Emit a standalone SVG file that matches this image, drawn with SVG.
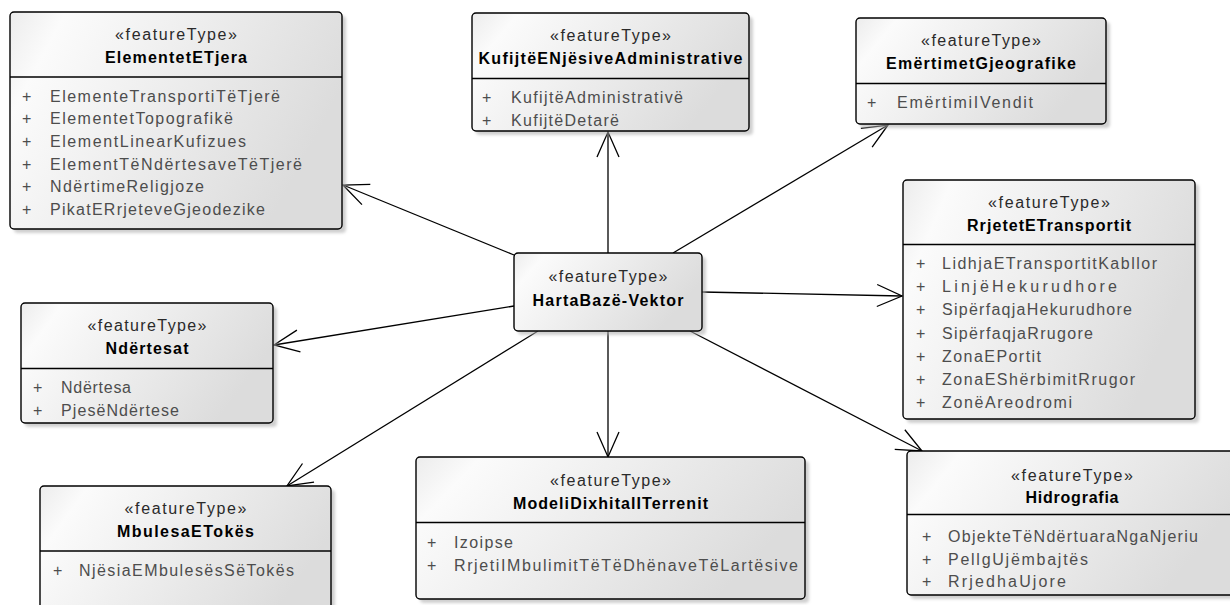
<svg xmlns="http://www.w3.org/2000/svg" width="1230" height="605" viewBox="0 0 1230 605">
<style>
.box{fill:url(#g);stroke:#000;stroke-width:1.4}
.sh{fill:#b0b0b0;opacity:.6;filter:url(#blur)}
.div{stroke:#000;stroke-width:1.3}
text{font-family:"Liberation Sans",Arial,sans-serif;font-size:16px}
.st{fill:#2a2a2a;text-anchor:middle}
.nm{fill:#000;font-weight:bold;text-anchor:middle}
.at{fill:#4d4d4d}
.conn{stroke:#000;stroke-width:1.3;fill:none;marker-end:url(#arr)}
</style>
<defs>
<linearGradient id="g" x1="0" y1="0" x2="1" y2="0.35">
<stop offset="0" stop-color="#ececec"/>
<stop offset="0.15" stop-color="#fbfbfb"/>
<stop offset="1" stop-color="#dcdcdc"/>
</linearGradient>
<filter id="blur" x="-5%" y="-5%" width="110%" height="110%"><feGaussianBlur stdDeviation="1.5"/></filter>
<marker id="arr" viewBox="-28 -13 30 26" refX="0" refY="0" markerWidth="30" markerHeight="26" markerUnits="userSpaceOnUse" orient="auto">
<path d="M-25,-11 L0,0 L-25,11" fill="none" stroke="#000" stroke-width="1.3"/>
</marker>
</defs>

<g id="connectors">
<line class="conn" x1="514" y1="255" x2="343" y2="185"/>
<line class="conn" x1="608" y1="253" x2="608" y2="132"/>
<line class="conn" x1="673" y1="253" x2="888" y2="125"/>
<line class="conn" x1="702" y1="292" x2="902" y2="296"/>
<line class="conn" x1="514" y1="306" x2="274" y2="345"/>
<line class="conn" x1="538" y1="331" x2="287" y2="486"/>
<line class="conn" x1="608" y1="331" x2="608" y2="457"/>
<line class="conn" x1="690" y1="331" x2="922" y2="451"/>
</g>

<g id="ElementetETjera">
<rect class="sh" x="14" y="16" width="332" height="217" rx="4"/>
<rect class="box" x="10" y="12" width="332" height="217" rx="4"/>
<line class="div" x1="10" y1="77" x2="342" y2="77"/>
<text class="st" x="176" y="40" textLength="122" lengthAdjust="spacing">«featureType»</text>
<text class="nm" x="176" y="63" textLength="142" lengthAdjust="spacing">ElementetETjera</text>
<text class="at" x="22" y="101.5">+</text><text class="at" x="50" y="101.5" textLength="230" lengthAdjust="spacing">ElementeTransportiTëTjerë</text>
<text class="at" x="22" y="124.2">+</text><text class="at" x="50" y="124.2" textLength="183" lengthAdjust="spacing">ElementetTopografikë</text>
<text class="at" x="22" y="146.9">+</text><text class="at" x="50" y="146.9" textLength="196" lengthAdjust="spacing">ElementLinearKufizues</text>
<text class="at" x="22" y="169.6">+</text><text class="at" x="50" y="169.6" textLength="252" lengthAdjust="spacing">ElementTëNdërtesaveTëTjerë</text>
<text class="at" x="22" y="192.3">+</text><text class="at" x="50" y="192.3" textLength="154" lengthAdjust="spacing">NdërtimeReligjoze</text>
<text class="at" x="22" y="215">+</text><text class="at" x="50" y="215" textLength="215" lengthAdjust="spacing">PikatERrjeteveGjeodezike</text>
</g>

<g id="KufijteENjesiveAdministrative">
<rect class="sh" x="476" y="17" width="277" height="118" rx="4"/>
<rect class="box" x="472" y="13" width="277" height="118" rx="4"/>
<line class="div" x1="472" y1="78.5" x2="749" y2="78.5"/>
<text class="st" x="610.5" y="41" textLength="121" lengthAdjust="spacing">«featureType»</text>
<text class="nm" x="610.5" y="64" textLength="264" lengthAdjust="spacing">KufijtëENjësiveAdministrative</text>
<text class="at" x="482" y="103">+</text><text class="at" x="511" y="103" textLength="172" lengthAdjust="spacing">KufijtëAdministrativë</text>
<text class="at" x="482" y="126">+</text><text class="at" x="511" y="126" textLength="108" lengthAdjust="spacing">KufijtëDetarë</text>
</g>

<g id="EmertimetGjeografike">
<rect class="sh" x="860" y="22" width="250" height="106" rx="4"/>
<rect class="box" x="856" y="18" width="250" height="106" rx="4"/>
<line class="div" x1="856" y1="83.5" x2="1106" y2="83.5"/>
<text class="st" x="981" y="46" textLength="120" lengthAdjust="spacing">«featureType»</text>
<text class="nm" x="981" y="69" textLength="190" lengthAdjust="spacing">EmërtimetGjeografike</text>
<text class="at" x="867" y="108">+</text><text class="at" x="897" y="108" textLength="136" lengthAdjust="spacing">EmërtimiIVendit</text>
</g>

<g id="RrjetetETransportit">
<rect class="sh" x="907" y="184" width="292" height="239" rx="4"/>
<rect class="box" x="903" y="180" width="292" height="239" rx="4"/>
<line class="div" x1="903" y1="244.5" x2="1195" y2="244.5"/>
<text class="st" x="1049" y="208" textLength="122" lengthAdjust="spacing">«featureType»</text>
<text class="nm" x="1049" y="231" textLength="164" lengthAdjust="spacing">RrjetetETransportit</text>
<text class="at" x="916" y="269">+</text><text class="at" x="942" y="269" textLength="215" lengthAdjust="spacing">LidhjaETransportitKabllor</text>
<text class="at" x="916" y="292.2">+</text><text class="at" x="942" y="292.2" textLength="175" lengthAdjust="spacing">LinjëHekurudhore</text>
<text class="at" x="916" y="315.4">+</text><text class="at" x="942" y="315.4" textLength="190" lengthAdjust="spacing">SipërfaqjaHekurudhore</text>
<text class="at" x="916" y="338.6">+</text><text class="at" x="942" y="338.6" textLength="151" lengthAdjust="spacing">SipërfaqjaRrugore</text>
<text class="at" x="916" y="361.8">+</text><text class="at" x="942" y="361.8" textLength="99" lengthAdjust="spacing">ZonaEPortit</text>
<text class="at" x="916" y="385">+</text><text class="at" x="942" y="385" textLength="193" lengthAdjust="spacing">ZonaEShërbimitRrugor</text>
<text class="at" x="916" y="408.2">+</text><text class="at" x="942" y="408.2" textLength="130" lengthAdjust="spacing">ZonëAreodromi</text>
</g>

<g id="Ndertesat">
<rect class="sh" x="25" y="307" width="252" height="120" rx="4"/>
<rect class="box" x="21" y="303" width="252" height="120" rx="4"/>
<line class="div" x1="21" y1="368.5" x2="273" y2="368.5"/>
<text class="st" x="147" y="331" textLength="119" lengthAdjust="spacing">«featureType»</text>
<text class="nm" x="147" y="354" textLength="83" lengthAdjust="spacing">Ndërtesat</text>
<text class="at" x="33" y="393">+</text><text class="at" x="61" y="393" textLength="70" lengthAdjust="spacing">Ndërtesa</text>
<text class="at" x="33" y="416">+</text><text class="at" x="61" y="416" textLength="118" lengthAdjust="spacing">PjesëNdërtese</text>
</g>

<g id="HartaBazeVektor">
<rect class="sh" x="518" y="257" width="188" height="78" rx="4"/>
<rect class="box" x="514" y="253" width="188" height="78" rx="4"/>
<text class="st" x="608" y="282" textLength="119" lengthAdjust="spacing">«featureType»</text>
<text class="nm" x="608" y="306" textLength="151" lengthAdjust="spacing">HartaBazë-Vektor</text>
</g>

<g id="MbulesaETokes">
<rect class="sh" x="44" y="490" width="291" height="140" rx="4"/>
<rect class="box" x="40" y="486" width="291" height="140" rx="4"/>
<line class="div" x1="40" y1="551" x2="331" y2="551"/>
<text class="st" x="185.5" y="514" textLength="122" lengthAdjust="spacing">«featureType»</text>
<text class="nm" x="185.5" y="537" textLength="137" lengthAdjust="spacing">MbulesaETokës</text>
<text class="at" x="53" y="576">+</text><text class="at" x="79" y="576" textLength="215" lengthAdjust="spacing">NjësiaEMbulesësSëTokës</text>
</g>

<g id="ModeliDixhitalITerrenit">
<rect class="sh" x="420" y="461" width="389" height="142" rx="4"/>
<rect class="box" x="416" y="457" width="389" height="142" rx="4"/>
<line class="div" x1="416" y1="522.5" x2="805" y2="522.5"/>
<text class="st" x="610.5" y="486" textLength="121" lengthAdjust="spacing">«featureType»</text>
<text class="nm" x="610.5" y="509" textLength="195" lengthAdjust="spacing">ModeliDixhitalITerrenit</text>
<text class="at" x="427" y="547.5">+</text><text class="at" x="454" y="547.5" textLength="59" lengthAdjust="spacing">Izoipse</text>
<text class="at" x="427" y="570.5">+</text><text class="at" x="454" y="570.5" textLength="344" lengthAdjust="spacing">RrjetiIMbulimitTëTëDhënaveTëLartësive</text>
</g>

<g id="Hidrografia">
<rect class="sh" x="911" y="455" width="330" height="144" rx="4"/>
<rect class="box" x="907" y="451" width="330" height="144" rx="4"/>
<line class="div" x1="907" y1="514.5" x2="1237" y2="514.5"/>
<text class="st" x="1072" y="481" textLength="122" lengthAdjust="spacing">«featureType»</text>
<text class="nm" x="1072" y="503" textLength="93" lengthAdjust="spacing">Hidrografia</text>
<text class="at" x="922" y="542">+</text><text class="at" x="948" y="542" textLength="250" lengthAdjust="spacing">ObjekteTëNdërtuaraNgaNjeriu</text>
<text class="at" x="922" y="564.5">+</text><text class="at" x="948" y="564.5" textLength="140" lengthAdjust="spacing">PellgUjëmbajtës</text>
<text class="at" x="922" y="587">+</text><text class="at" x="948" y="587" textLength="118" lengthAdjust="spacing">RrjedhaUjore</text>
</g>
</svg>
